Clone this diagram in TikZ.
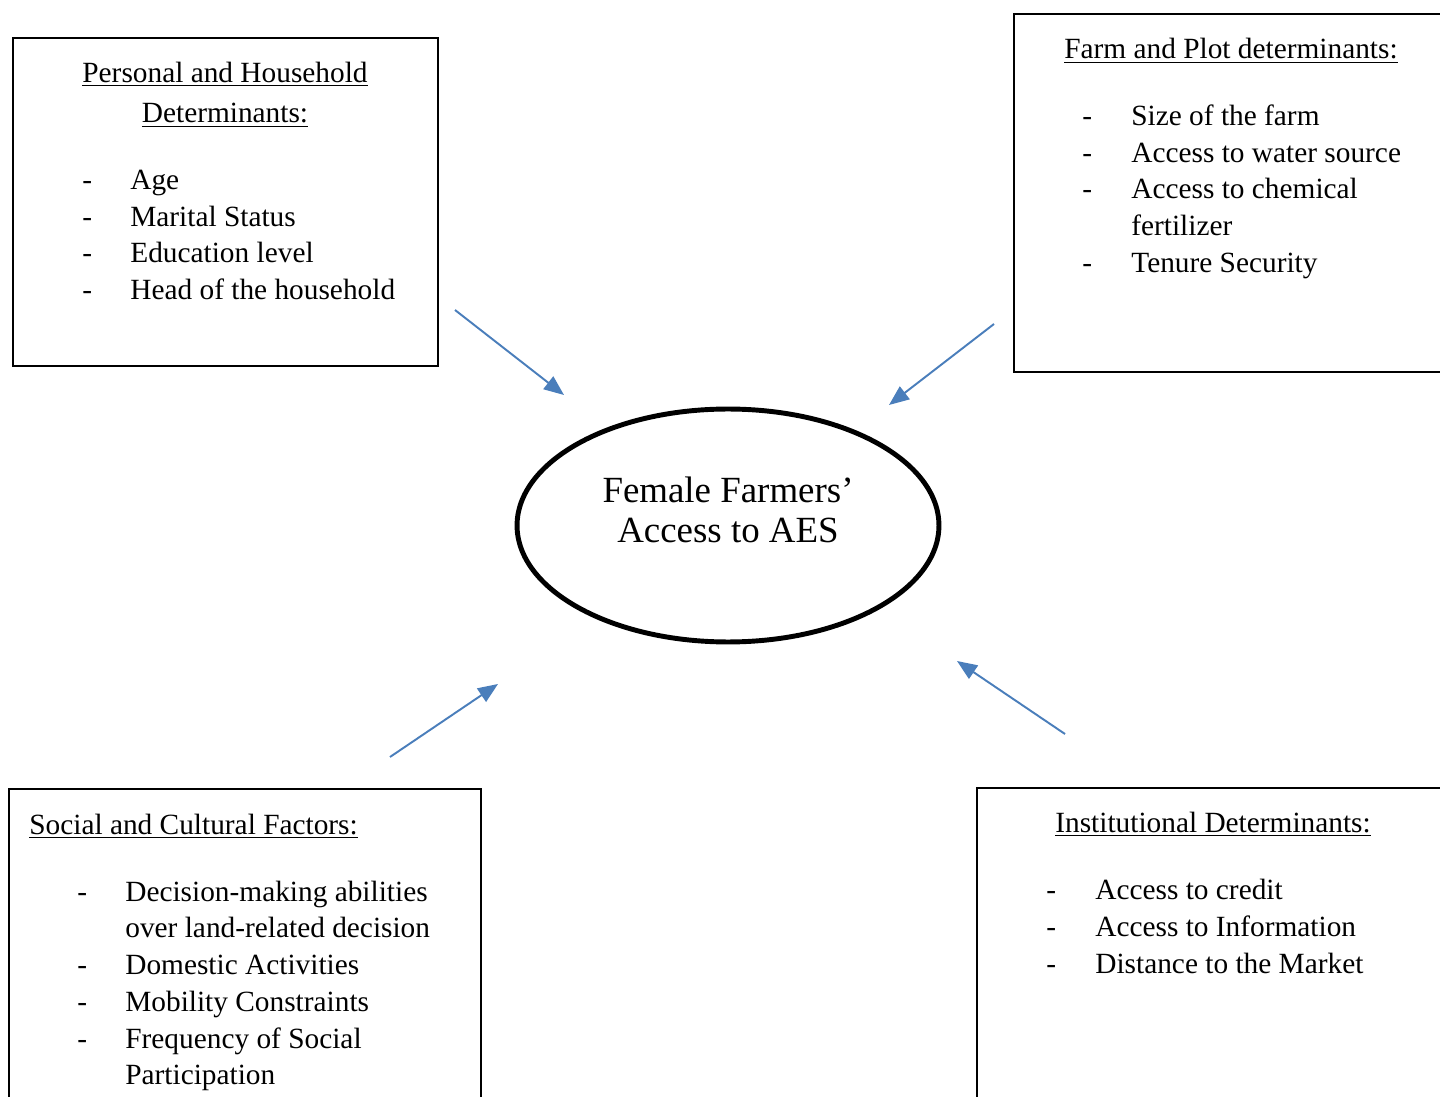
\documentclass[tikz,border=0pt]{standalone}
\usepackage{fontspec}
\setmainfont{Liberation Serif}
\usetikzlibrary{arrows.meta,shapes.geometric,fit}
\definecolor{arrowblue}{RGB}{74,126,187}
\begin{document}
\begin{tikzpicture}[x=0.02cm,y=-0.02cm,
  box/.style={draw=black,line width=1.2pt,inner sep=0pt},
  txt/.style={inner sep=0pt,anchor=base west,font=\fontsize{16.7}{20}\selectfont},
  ctxt/.style={inner sep=0pt,anchor=base,font=\fontsize{16.7}{20}\selectfont},
  big/.style={inner sep=0pt,anchor=base,font=\fontsize{21}{25}\selectfont},
  arr/.style={draw=arrowblue,line width=1.1pt,-{Triangle[length=0.4cm,width=0.32cm]}}]
\useasboundingbox (0,0) rectangle (1440,1097);

% boxes
\node[box,fit={(13,38) (438,366)}] (pers) {};
\node[box,fit={(1014,14) (1460,372)}] (farm) {};
\node[box,fit={(9,789) (481,1120)}] (soc) {};
\node[box,fit={(977,788) (1460,1120)}] (inst) {};

% central ellipse
\node[draw,ellipse,line width=2.8pt,inner sep=0pt,minimum width=8.44cm,minimum height=4.66cm] (aes) at (728,525.5) {};
\node[big] (aes1) at (728,503) {Female Farmers’};
\node[big] (aes2) at (728,543) {Access to AES};

% box 1
\node[ctxt] (p0) at (225,83) {\underline{Personal and Household}};
\node[ctxt] (p00) at (225,123) {\underline{Determinants:}};
\foreach \y/\t [count=\i] in {190/Age,227/Marital Status,263/Education level,300/Head of the household}{
  \node[txt] (pd\i) at (82,\y) {-};
  \node[txt] (pi\i) at (130,\y) {\t};
}

% box 2
\node[txt] (f0) at (1064,59) {\underline{Farm and Plot determinants:}};
\foreach \y in {126,163,199,273}{\node[txt] at (1082,\y) {-};}
\node[txt] (f1) at (1131,126) {Size of the farm};
\node[txt] (f2) at (1131,163) {Access to water source};
\node[txt] (f3) at (1131,199) {Access to chemical};
\node[txt] (f3b) at (1131,236) {fertilizer};
\node[txt] (f4) at (1131,273) {Tenure Security};

% box 3
\node[txt] (s0) at (29,834) {\underline{Social and Cultural Factors:}};
\foreach \y in {901,974,1011,1048}{\node[txt] at (77,\y) {-};}
\node[txt] (s1) at (125,901) {Decision-making abilities};
\node[txt] (s1b) at (125,937) {over land-related decision};
\node[txt] (s2) at (125,974) {Domestic Activities};
\node[txt] (s3) at (125,1011) {Mobility Constraints};
\node[txt] (s4) at (125,1048) {Frequency of Social};
\node[txt] (s4b) at (125,1084) {Participation};

% box 4
\node[txt] (i0) at (1055,832) {\underline{Institutional Determinants:}};
\foreach \y in {899,936,973}{\node[txt] at (1046,\y) {-};}
\node[txt] (i1) at (1095,899) {Access to credit};
\node[txt] (i2) at (1095,936) {Access to Information};
\node[txt] (i3) at (1095,973) {Distance to the Market};

% arrows
\coordinate (a1s) at (455,310); \coordinate (a1e) at (564,395);
\coordinate (a2s) at (994,324); \coordinate (a2e) at (889,405);
\coordinate (a3s) at (390,757); \coordinate (a3e) at (498,684);
\coordinate (a4s) at (1065,734); \coordinate (a4e) at (957,661);
\draw[arr] (a1s) -- (a1e);
\draw[arr] (a2s) -- (a2e);
\draw[arr] (a3s) -- (a3e);
\draw[arr] (a4s) -- (a4e);
\end{tikzpicture}
\end{document}
